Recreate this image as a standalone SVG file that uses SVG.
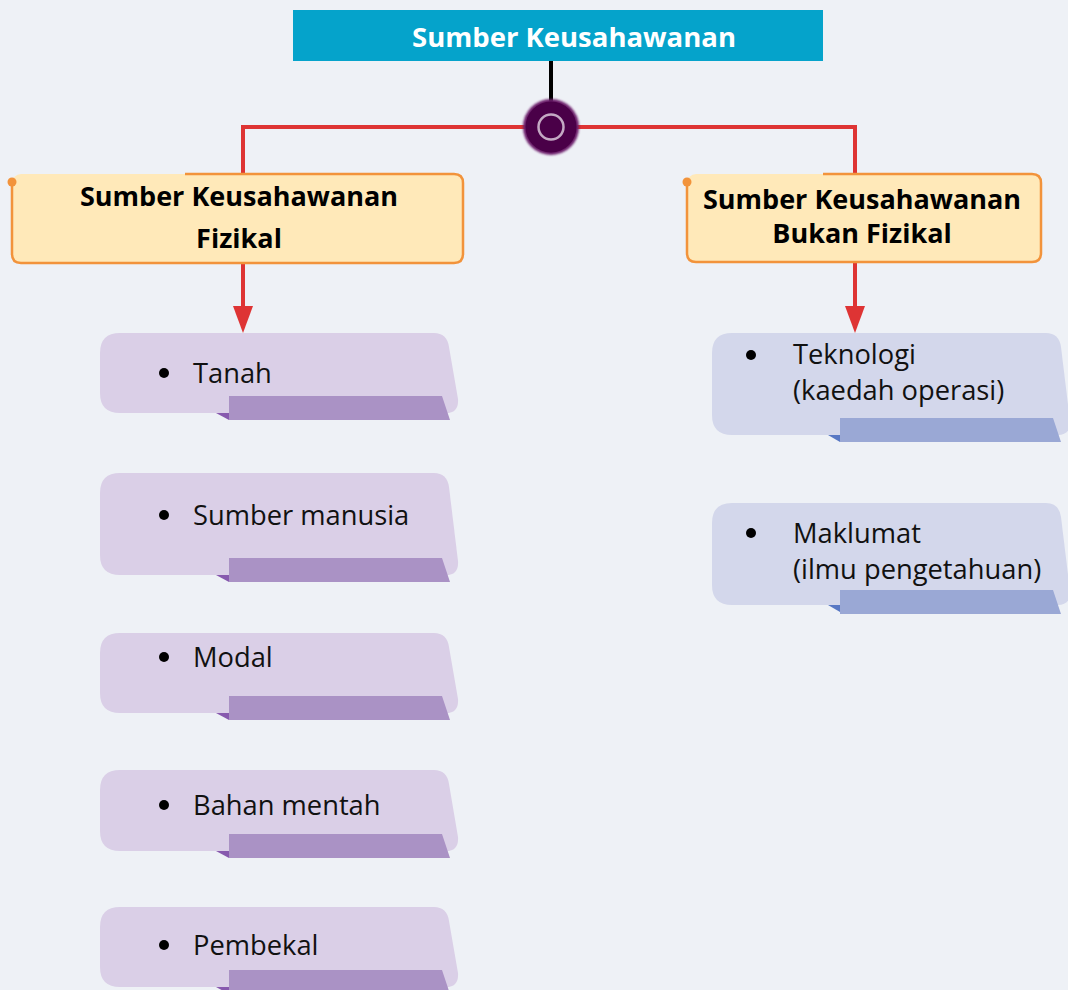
<svg xmlns="http://www.w3.org/2000/svg" width="1068" height="990" viewBox="0 0 1068 990">
  <defs>
    <style>
      .title { font-family: "Open Sans", "Noto Sans", sans-serif; font-weight: 700; font-size: 27.5px; fill: #ffffff; text-anchor: middle; }
      .head { font-family: "Open Sans", "Noto Sans", sans-serif; font-weight: 700; font-size: 27px; fill: #000000; text-anchor: middle; }
      .item { font-family: "Open Sans", "Noto Sans", sans-serif; font-size: 27.3px; fill: #111111; }
      .headbox { fill: #FFE9B9; }
      .headline { fill: none; stroke: #F2933B; stroke-width: 2.5; }
      .dot { fill: #F2933B; }
      .link { fill: none; stroke: #DE3434; stroke-width: 4; }
      .head-arrow { fill: #DE3434; }
      .stem { fill: none; stroke: #000000; stroke-width: 4; }
      .pcard { fill: #DACFE7; }
      .pstrip { fill: #AA92C5; }
      .ptab { fill: #8759AE; }
      .bcard { fill: #D3D7EB; }
      .bstrip { fill: #9AA8D5; }
      .btab { fill: #5878C4; }
      .bullet { fill: #000000; }
    </style>
    <filter id="soft" x="-30%" y="-30%" width="160%" height="160%">
      <feGaussianBlur stdDeviation="1"/>
    </filter>
  </defs>

  <!-- background -->
  <rect x="0" y="0" width="1068" height="990" fill="#EEF1F6"/>

  <!-- connectors -->
  <g id="connectors">
    <path class="stem" d="M551,61 V108"/>
    <path class="link" d="M243,175 V127 H855 V175"/>
    <path class="link" d="M243,263 V309"/>
    <path class="head-arrow" d="M233,306 L253,306 L243,333 Z"/>
    <path class="link" d="M855,262 V309"/>
    <path class="head-arrow" d="M845,306 L865,306 L855,333 Z"/>
  </g>

  <!-- junction knob -->
  <g id="junction">
    <circle cx="551" cy="127" r="28" fill="#6A1C69" filter="url(#soft)"/>
    <circle cx="551" cy="127" r="25.5" fill="#4A0048"/>
    <circle cx="551" cy="127" r="12.5" fill="#4A0048" stroke="#C4A9C4" stroke-width="2.5"/>
  </g>

  <!-- root -->
  <g id="root">
    <rect x="293" y="10" width="530" height="51" fill="#05A3CB"/>
    <text class="title" x="574" y="47">Sumber Keusahawanan</text>
  </g>

  <!-- physical resources heading -->
  <g id="fizikal">
    <rect class="headbox" x="12" y="174" width="451" height="89" rx="9"/>
    <path class="headline" d="M185,174 H454 Q463,174 463,183 V254 Q463,263 454,263 H21 Q12,263 12,254 V182"/>
    <circle class="dot" cx="12" cy="182" r="4.5"/>
    <text class="head" x="239" y="206">Sumber Keusahawanan</text>
    <text class="head" x="239" y="248">Fizikal</text>
  </g>

  <!-- non-physical resources heading -->
  <g id="bukan-fizikal">
    <rect class="headbox" x="687" y="174" width="354" height="88" rx="9"/>
    <path class="headline" d="M823,174 H1032 Q1041,174 1041,183 V253 Q1041,262 1032,262 H696 Q687,262 687,253 V182"/>
    <circle class="dot" cx="687" cy="182" r="4.5"/>
    <text class="head" x="862" y="209">Sumber Keusahawanan</text>
    <text class="head" x="862" y="243">Bukan Fizikal</text>
  </g>

  <!-- physical resource items -->
  <g id="tanah">
    <path class="pcard" d="M120,333 H434 Q447,333 449,347 L458,399 Q459,413 446,413 H120 Q100,413 100,393 V353 Q100,333 120,333 Z"/>
    <path class="ptab" d="M216,413 L229,413 L229,420 Z"/>
    <path class="pstrip" d="M229,396 H442 L450,420 H229 Z"/>
    <circle class="bullet" cx="164" cy="373" r="5"/>
    <text class="item" x="193" y="383">Tanah</text>
  </g>

  <g id="sumber-manusia">
    <path class="pcard" d="M120,473 H434 Q447,473 449,487 L458,561 Q459,575 446,575 H120 Q100,575 100,555 V493 Q100,473 120,473 Z"/>
    <path class="ptab" d="M216,575 L229,575 L229,582 Z"/>
    <path class="pstrip" d="M229,558 H442 L450,582 H229 Z"/>
    <circle class="bullet" cx="164" cy="515" r="5"/>
    <text class="item" x="193" y="525">Sumber manusia</text>
  </g>

  <g id="modal">
    <path class="pcard" d="M120,633 H434 Q447,633 449,647 L458,699 Q459,713 446,713 H120 Q100,713 100,693 V653 Q100,633 120,633 Z"/>
    <path class="ptab" d="M216,713 L229,713 L229,720 Z"/>
    <path class="pstrip" d="M229,696 H442 L450,720 H229 Z"/>
    <circle class="bullet" cx="164" cy="657" r="5"/>
    <text class="item" x="193" y="667">Modal</text>
  </g>

  <g id="bahan-mentah">
    <path class="pcard" d="M120,770 H434 Q447,770 449,784 L458,837 Q459,851 446,851 H120 Q100,851 100,831 V790 Q100,770 120,770 Z"/>
    <path class="ptab" d="M216,851 L229,851 L229,858 Z"/>
    <path class="pstrip" d="M229,834 H442 L450,858 H229 Z"/>
    <circle class="bullet" cx="164" cy="805" r="5"/>
    <text class="item" x="193" y="815">Bahan mentah</text>
  </g>

  <g id="pembekal">
    <path class="pcard" d="M120,907 H434 Q447,907 449,921 L458,973 Q459,987 446,987 H120 Q100,987 100,967 V927 Q100,907 120,907 Z"/>
    <path class="ptab" d="M216,987 L229,987 L229,994 Z"/>
    <path class="pstrip" d="M229,970 H442 L450,994 H229 Z"/>
    <circle class="bullet" cx="164" cy="945" r="5"/>
    <text class="item" x="193" y="955">Pembekal</text>
  </g>

  <!-- non-physical resource items -->
  <g id="teknologi">
    <path class="bcard" d="M732,333 H1046 Q1059,333 1061,347 L1070,421 Q1071,435 1058,435 H732 Q712,435 712,415 V353 Q712,333 732,333 Z"/>
    <path class="btab" d="M828,435 L840,435 L840,442 Z"/>
    <path class="bstrip" d="M840,418 H1053 L1061,442 H840 Z"/>
    <circle class="bullet" cx="751" cy="355" r="5"/>
    <text class="item" x="793" y="364">Teknologi</text>
    <text class="item" x="793" y="400">(kaedah operasi)</text>
  </g>

  <g id="maklumat">
    <path class="bcard" d="M732,503 H1046 Q1059,503 1061,517 L1070,591 Q1071,605 1058,605 H732 Q712,605 712,585 V523 Q712,503 732,503 Z"/>
    <path class="btab" d="M828,605 L840,605 L840,612 Z"/>
    <path class="bstrip" d="M840,590 H1053 L1061,614 H840 Z"/>
    <circle class="bullet" cx="751" cy="533" r="5"/>
    <text class="item" x="793" y="543">Maklumat</text>
    <text class="item" x="793" y="579">(ilmu pengetahuan)</text>
  </g>
</svg>
